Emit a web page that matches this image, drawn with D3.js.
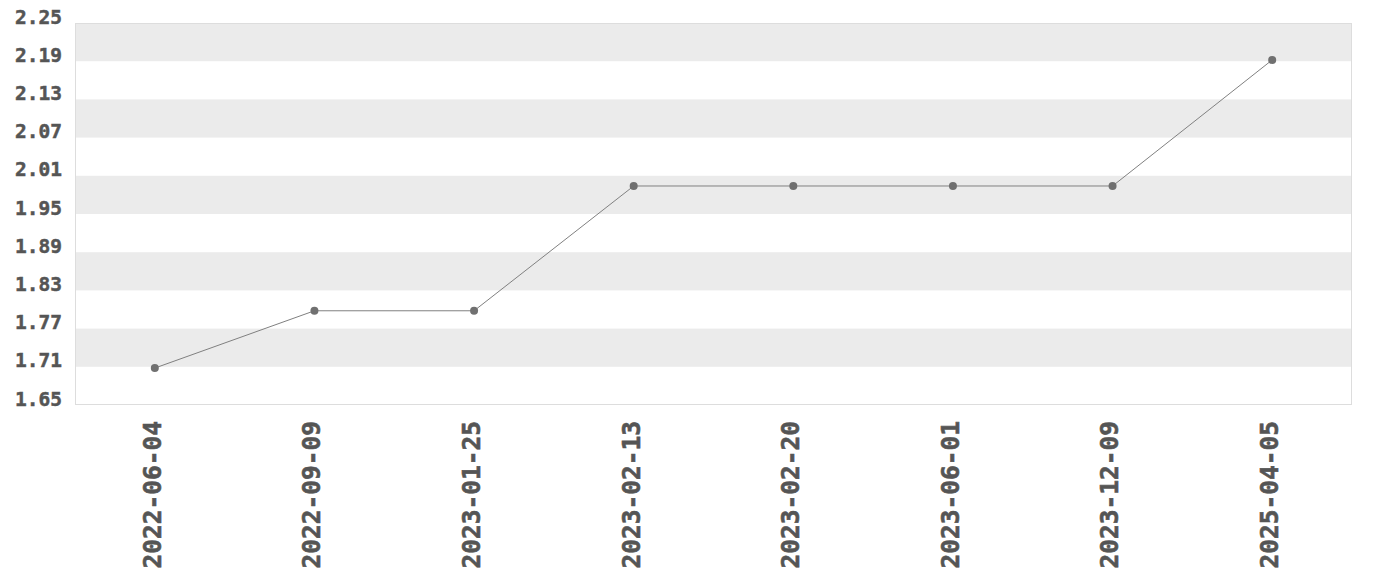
<!DOCTYPE html>
<html><head><meta charset="utf-8">
<script src="https://cdn.jsdelivr.net/npm/d3@7"></script>
<style>body{margin:0;background:#fff}svg{display:block}</style>
</head><body><svg id="c" width="1380" height="580"></svg>
<script>
const categories = ["2022-06-04","2022-09-09","2023-01-25","2023-02-13","2023-02-20","2023-06-01","2023-12-09","2025-04-05"];
const values = [1.708, 1.798, 1.798, 1.994, 1.994, 1.994, 1.994, 2.192];
const yTicks = [1.65,1.71,1.77,1.83,1.89,1.95,2.01,2.07,2.13,2.19,2.25];

const svg = d3.select("#c");
const m = {l:75, r:28, t:23, b:175};
const W = 1380, H = 580;
const x = d3.scalePoint().domain(categories).range([m.l, W-m.r]).padding(0.5);
const y = d3.scaleLinear().domain([1.65, 2.25]).range([H-m.b, m.t]);

// bands
const bands = d3.range(yTicks.length-1).filter(i => i % 2 === 1);
svg.append("g").selectAll("rect").data(bands).join("rect")
  .attr("x", m.l).attr("width", W-m.r-m.l)
  .attr("y", i => y(yTicks[i+1])).attr("height", i => y(yTicks[i]) - y(yTicks[i+1]))
  .attr("fill", "#ebebeb");
svg.append("rect").attr("x", m.l+0.5).attr("y", m.t+0.5).attr("width", W-m.r-m.l-1).attr("height", H-m.b-m.t-1)
  .attr("fill","none").attr("stroke","#dddddd");

const font = "'DejaVu Sans Mono', monospace";
// y axis
const ya = svg.append("g").attr("transform", `translate(${m.l},0)`)
  .call(d3.axisLeft(y).tickValues(yTicks).tickFormat(d3.format(".2f")).tickSize(0).tickPadding(13));
ya.select(".domain").remove();
ya.selectAll("text").attr("dy", 0).attr("fill","#555")
  .style("font-family",font).style("font-weight","bold").style("font-size","19.5px")
  .attr("stroke","#555").attr("stroke-width",0.5);

// x axis
const xa = svg.append("g").attr("transform", `translate(0,${H-m.b})`)
  .call(d3.axisBottom(x).tickSize(0));
xa.select(".domain").remove();
xa.selectAll("text").attr("transform","rotate(-90)").attr("text-anchor","end")
  .attr("x", -16).attr("y", 0).attr("dy", "0.22em")
  .attr("fill","#555").style("font-family",font).style("font-weight","bold").style("font-size","24.5px")
  .attr("stroke","#555").attr("stroke-width",0.6);

// line
const data = categories.map((c,i)=>({c, v: values[i]}));
svg.append("path").datum(data)
  .attr("d", d3.line().x(d=>x(d.c)).y(d=>y(d.v)))
  .attr("fill","none").attr("stroke","#808080").attr("stroke-width",1);
svg.append("g").selectAll("circle").data(data).join("circle")
  .attr("cx", d=>x(d.c)).attr("cy", d=>y(d.v)).attr("r", 4).attr("fill","#707070");
</script></body></html>
